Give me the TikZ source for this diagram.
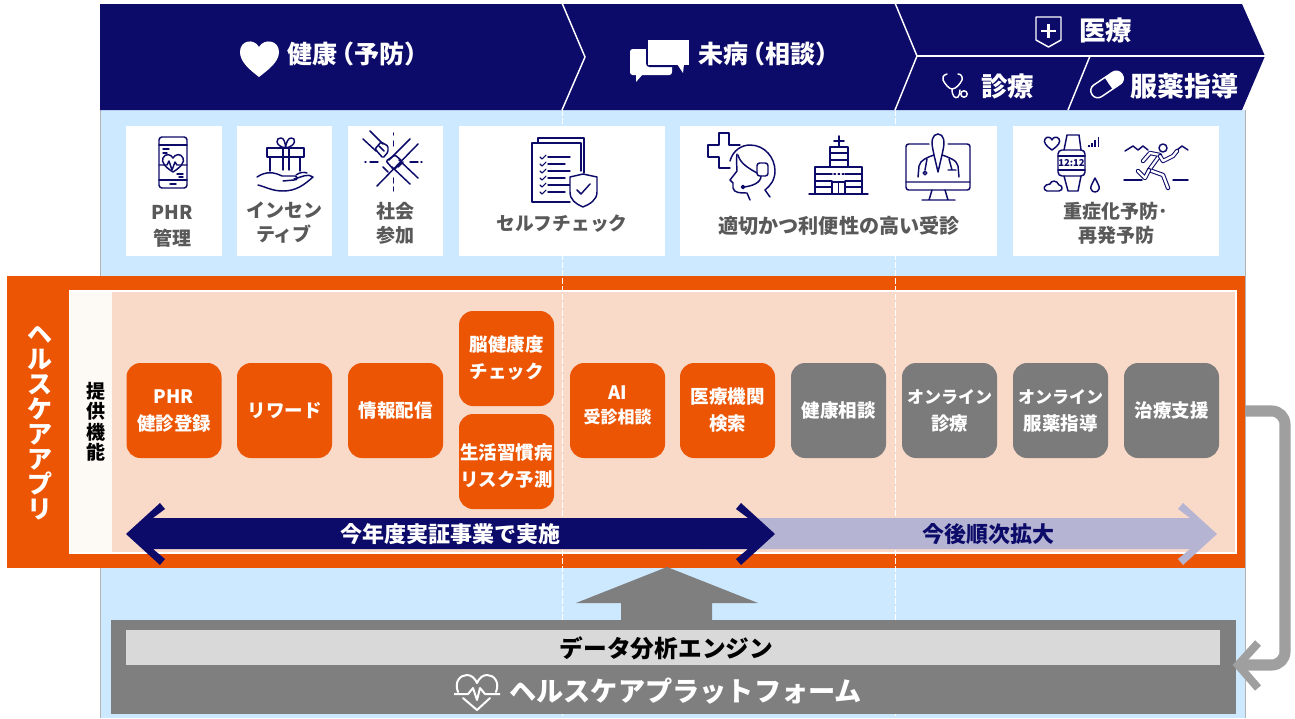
\documentclass[tikz,border=0pt]{standalone}
\usepackage{fontspec}
\setmainfont{Noto Sans CJK JP}
\usetikzlibrary{calc}
\definecolor{navy}{HTML}{0D0B69}
\definecolor{sky}{HTML}{CCE9FF}
\definecolor{orng}{HTML}{EC5504}
\definecolor{peach}{HTML}{F9D9C8}
\definecolor{strip}{HTML}{FDF9F5}
\definecolor{gbox}{HTML}{7B7B7B}
\definecolor{gbar}{HTML}{7F7F7F}
\definecolor{gline}{HTML}{9F9F9F}
\definecolor{lav}{HTML}{B5B5D3}
\definecolor{ltext}{HTML}{595959}
\newcommand{\fpx}[2]{\fontsize{\dimexpr#1pt*3/4\relax}{\dimexpr#2pt*3/4\relax}\selectfont\bfseries}
\newcommand{\fin}[1]{\fontsize{\dimexpr#1pt*3/4\relax}{\dimexpr27pt*3/4\relax}\selectfont}
\tikzset{
  x=0.75pt,y=-0.75pt,
  bx/.style 2 args={rectangle,inner sep=0pt,outer sep=0pt,minimum width=#1*0.75pt,minimum height=#2*0.75pt},
  cardbox/.style 2 args={bx={#1}{#2},fill=white},
  fnbox/.style={bx={95}{95},rounded corners=10.5pt,text=white,align=center,font=\fpx{18.5}{27}},
  obox/.style={fnbox,fill=orng},
  gbx/.style={fnbox,fill=gbox},
  boxtxt/.style={text=white,align=center,inner sep=0pt,font=\fpx{18.5}{27}},
  cardlbl/.style={text=ltext,align=center,inner sep=0pt,font=\fpx{18.7}{25}},
  ban/.style={text=white,inner sep=0pt,anchor=west},
  ic/.style={draw=navy,line width=1.1pt,line join=round,line cap=round},
  dbl/.style={draw=navy,line width=0.8pt,double=white,double distance=1.7pt,line cap=round,line join=round},
  wl/.style={draw=white,line width=1.1pt,line join=miter},
  dsh/.style={draw=white,line width=0.75pt,dash pattern=on 4.5pt off 1.5pt},
}
\begin{document}
\begin{tikzpicture}
\fill[white] (0,0) rectangle (1295,718);
\useasboundingbox (0,0) rectangle (1295,718);
% background
\node[bx={1145}{608},fill=sky,draw=none] (bg) at (672.5,414) {};
\draw[color=gray!60,line width=0.6pt] (bg.north west)--(bg.south west) (bg.north east)--(bg.south east);
% banner
\fill[navy] (100,4)--(1242,4)--(1265,56)--(1242,110)--(100,110)--cycle;
\draw[wl] (562,3)--(585,57)--(562,110);
\draw[wl] (895,3)--(917,56)--(895,110);
\draw[wl] (917,56)--(1265,56);
\draw[wl] (1090,56)--(1068,110);
% banner text
\node[ban,font=\fpx{25}{25}] (t1) at (287,54) {健康\kern-0.3em（予防）};
\node[ban,font=\fpx{25}{25}] (t2) at (698,54) {未病\kern-0.3em（相談）};
\node[ban,font=\fpx{26.5}{26}] (t3) at (1079,30) {医療};
\node[ban,font=\fpx{26.5}{26}] (t4) at (981,86) {診療};
\node[ban,font=\fpx{27}{27}] (t5) at (1130,86) {服薬指導};
% heart
\fill[white] (259,77) .. controls (250,70) and (240,62) .. (240,52) .. controls (240,40) and (254,38) .. (259,47) .. controls (264,38) and (279,40) .. (279,52) .. controls (279,62) and (268,70) .. (259,77) -- cycle;
% chat
\fill[white,rounded corners=2pt] (630,49) -- (672,49) -- (672,75) -- (630,75) -- cycle;
\fill[white] (636,74)--(636,82)--(643,74)--cycle;
\draw[navy,fill=white,line width=1.5pt,rounded corners=2pt] (647,40) rectangle (689,66);
\fill[white] (647.5,40) rectangle (689,65);
\fill[white] (677,64)--(683,73)--(684,64)--cycle;
% shield
\draw[white,line width=1.1pt,line join=round] (1036,17)--(1061,17)--(1061,40)--(1048.5,47)--(1036,40)--cycle;
\draw[white,line width=1.9pt] (1048.5,24)--(1048.5,38) (1041,31)--(1056,31);
% stethoscope
\draw[white,line width=1.1pt,line cap=round,line join=round] (947,74) .. controls (943,75) and (942,78) .. (943,80) .. controls (945,84) and (949,89) .. (952,89) .. controls (956,89) and (960,84) .. (962,80) .. controls (963,77) and (961,74) .. (958,74);
\draw[white,line width=1.1pt,line cap=round] (952,89) .. controls (952,96) and (955,99) .. (958,97) .. controls (960,96) and (959,93) .. (960,90);
\draw[white,line width=1.1pt] (964,94) circle (3.2);
% capsule
\begin{scope}[shift={(1107,84.5)},rotate=34]
\draw[white,line width=1.1pt,rounded corners=5pt] (-18,-7) rectangle (18,7);
\fill[white,rounded corners=5pt] (2,-7) -- (18,-7) -- (18,7) -- (2,7) -- cycle;
\fill[white] (2,-7) rectangle (6,7);
\end{scope}
% orange panel
\node[bx={1238}{292},fill=orng] (app) at (626,422) {};
\node[bx={1166}{262},fill=peach,draw=white,line width=0.9pt] (panel) at (653,422) {};
\node[bx={42}{260},fill=strip] (stripn) at (91,422) {};
\node[text=white,align=center,inner sep=0pt,font=\fpx{25}{25}] (apptxt) at (40,423.5) {ヘ\\ル\\ス\\ケ\\ア\\ア\\プ\\リ};
\node[text=black,align=center,inner sep=0pt,font=\fpx{19}{20.5}] (fn) at (95.5,422) {提\\供\\機\\能};
% dashed
\coordinate (d1t) at (562,110); \coordinate (d1b) at (562,718);
\coordinate (d2t) at (895,110); \coordinate (d2b) at (895,718);
\draw[dsh] (d1t)--(d1b); \draw[dsh] (d2t)--(d2b);
% cards
\node[cardbox={96}{130}] (c1) at (174,191) {};
\node[cardbox={95}{130}] (c2) at (284.5,191) {};
\node[cardbox={95}{130}] (c3) at (395.5,191) {};
\node[cardbox={206}{130}] (c4) at (562,191) {};
\node[cardbox={317}{130}] (c5) at (838.5,191) {};
\node[cardbox={206}{130}] (c6) at (1116,191) {};
\node[cardlbl,font=\fpx{19}{26}] (l1) at (172,226) {PHR\\管理};
\node[cardlbl,font=\fpx{19}{24}] (l2) at (284,223) {インセン\\ティブ};
\node[cardlbl,font=\fpx{19}{24}] (l3) at (395,223) {社会\\参加};
\node[cardlbl] (l4) at (562,224) {セルフチェック};
\node[cardlbl,font=\fpx{20.1}{25}] (l5) at (839,226) {適切かつ利便性の高い受診};
\node[cardlbl,font=\fpx{19}{23.5}] (l6) at (1116,223.5) {重症化予防･\\再発予防};
% phone icon
\draw[ic,rounded corners=2.2pt] (159,137) rectangle (187,188);
\draw[ic] (159,145)--(187,145) (159,180)--(187,180) (170,184)--(176,184) (163,149)--(169,149) (163,153)--(167,153) (177,174)--(183,174) (179,177)--(183,177);
\draw[ic] (173,172) .. controls (165,167) and (161,162) .. (163,158) .. controls (165,153) and (171,154) .. (173,158) .. controls (175,154) and (181,153) .. (183,158) .. controls (185,162) and (181,167) .. (173,172);
\draw[ic] (159,165)--(167,165)--(169,161)--(172,170)--(175,162)--(177,165)--(187,165);
% gift icon
\draw[ic] (267,148) rectangle (304,157);
\draw[ic] (270,157)--(270,171) (300,157)--(300,171) (283,148)--(283,170) (289,148)--(289,170);
\draw[ic] (285.5,148) .. controls (274,146) and (276,137) .. (281,138) .. controls (284,138) and (285.5,143) .. (285.5,148) .. controls (286,143) and (288,138) .. (291,138) .. controls (296,137) and (297,146) .. (285.5,148);
\draw[ic] (257,177) .. controls (266,171) and (274,172) .. (282,176) -- (295,176) .. controls (298,177) and (298,180) .. (294,180) -- (283,181);
\draw[ic] (294,179) .. controls (302,177) and (308,173) .. (313,177) .. controls (304,185) and (296,191) .. (283,191) .. controls (272,191) and (266,187) .. (258,185);
\draw[ic] (296,175) .. controls (300,172) and (304,172) .. (307,173);
% social icon
\draw[ic] (393.5,133)--(393.5,135) (393.5,141)--(393.5,146) (393.5,178)--(393.5,183) (393.5,187)--(393.5,191) (365,162)--(366,162) (370,162)--(378,162) (410,162)--(418,162) (421,162)--(422,162);
\draw[ic] (363,139)--(376,151) (370,131)--(383,144);
\draw[ic,rounded corners=1pt] (375,149)--(381,142)--(388,146)--(388,152)--(383,158)--cycle;
\draw[ic] (379,146)--(384,151);
\draw[ic] (418,144)--(377,186) (410,139)--(389,160);
\draw[ic] (418,178)--(399,160) (410,184)--(392,167);
\draw[ic,rounded corners=1pt] (386,161)--(395,155)--(402,161)--(394,170)--cycle;
\draw[ic] (383,167)--(388,172) (398,167)--(403,162);
% checklist icon
\draw[ic] (584,173)--(584,138)--(538,138)--(538,143);
\draw[ic] (581,171)--(581,143)--(532,143)--(532,202)--(570,202);
\draw[ic] (548,157)--(570,157) (548,164)--(565,164) (548,171)--(570,171) (548,178)--(565,178) (548,185)--(570,185) (548,192)--(565,192);
\foreach \yy in {157,164,171,178,185,192}{\draw[ic,line width=0.8pt] (540,\yy)--(542,\yy+2)--(546,\yy-2);}
\draw[ic,fill=white] (570,177)--(583,174)--(597,177)--(597,192) .. controls (597,200) and (590,204) .. (583,207) .. controls (576,204) and (570,200) .. (570,192) -- cycle;
\draw[ic] (577,190)--(581,194)--(590,184);
% headset icon
\draw[ic] (740,145)--(729,145)--(729,133)--(719,133)--(719,145)--(708,145)--(708,157)--(719,157)--(719,168)--(730,168);
\draw[ic] (730,161) .. controls (733,150) and (742,145) .. (750,145) .. controls (765,145) and (775,158) .. (775,171) .. controls (775,180) and (770,186) .. (765,190) -- (770,197);
\draw[ic] (737,154) .. controls (736,160) and (737,168) .. (737,171) -- (730,180) -- (733,183) -- (733,188) .. controls (734,193) and (740,193) .. (747,193) -- (750,200);
\draw[ic] (738,155) .. controls (740,163) and (748,168) .. (757,173);
\draw[ic,rounded corners=2pt] (757,163) rectangle (768,176);
\draw[ic] (761,176) .. controls (761,183) and (752,186) .. (744,187);
\draw[ic,fill=navy] (743,187) circle (1.5);
% hospital icon
\draw[ic] (809,194)--(868,194) (815,194)--(815,167)--(862,167)--(862,194) (830,167)--(830,147)--(848,147)--(848,167);
\draw[ic,line width=1.4pt] (839,136)--(839,146) (834,141)--(844,141);
\draw[ic] (830,153)--(848,153) (830,160)--(848,160);
\draw[ic] (815,174)--(832,174) (845,174)--(862,174) (815,181)--(832,181) (845,181)--(862,181) (815,187)--(832,187) (845,187)--(862,187);
\draw[ic] (832,194)--(832,182)--(845,182)--(845,194) (838.5,182)--(838.5,194);
\draw[ic,dotted] (834,174)--(844,174);
% monitor icon
\draw[ic,rounded corners=2pt] (929,144)--(906,144)--(906,190)--(970,190)--(970,144)--(948,144);
\draw[ic] (906,182)--(970,182) (932,190)--(929,200) (945,190)--(948,200) (922,200)--(955,200);
\draw[ic] (938,134) .. controls (932,134) and (931,142) .. (933,150) -- (934,155) .. controls (928,157) and (920,160) .. (919,166) -- (918,177);
\draw[ic] (938,134) .. controls (944,134) and (945,142) .. (943,150) -- (942,155) .. controls (948,157) and (957,160) .. (958,166) -- (959,177);
\draw[ic] (934,155)--(938,172)--(942,155);
\draw[ic] (927,159)--(925,170) (949,159)--(952,170) (948,170)--(956,170);
\draw[ic] (925,173) circle (1.8);
% watch icon
\draw[ic,rounded corners=3pt] (1058,150) rectangle (1085,176);
\draw[ic] (1064,150)--(1067,135)--(1079,135)--(1081,150) (1064,176)--(1068,191)--(1078,191)--(1081,176);
\draw[ic,line width=1pt] (1058,156)--(1085,156) (1058,170)--(1085,170);
\node[text=navy,inner sep=0pt,font=\fpx{9.5}{9}] (clock) at (1071.5,163) {12:12};
\draw[ic] (1052,150) .. controls (1046,146) and (1043,142) .. (1045,139) .. controls (1047,136) and (1051,137) .. (1052,140) .. controls (1053,137) and (1057,136) .. (1059,139) .. controls (1061,142) and (1058,146) .. (1052,150);
\draw[navy,line width=1.4pt] (1089,147)--(1089,145) (1092,147)--(1092,143) (1095,147)--(1095,140) (1098.5,147)--(1098.5,137);
\draw[ic] (1047,191) -- (1059,191) .. controls (1064,190) and (1062,185) .. (1059,185) .. controls (1057,180) and (1051,180) .. (1050,184) .. controls (1044,184) and (1042,190) .. (1047,191);
\draw[ic] (1095,178) .. controls (1092,184) and (1090,187) .. (1091,189) .. controls (1092,193) and (1098,193) .. (1099,189) .. controls (1100,187) and (1098,184) .. (1095,178);
% runner icon
\draw[ic] (1125,151)--(1133,146)--(1138,150)--(1143,146)--(1148,150) (1177,150)--(1182,146)--(1188,150);
\draw[ic] (1124,180)--(1142,180) (1173,180)--(1188,180);
\draw[ic] (1163,148) circle (4);
\draw[dbl] (1143,161)--(1150,153)--(1160,155)--(1149,170)--(1163,175)--(1168,188);
\draw[dbl] (1160,156)--(1163,161)--(1173,156)--(1177,151);
\draw[dbl] (1149,170)--(1145,178)--(1138,171);
% function boxes
\node[obox] (b1) at (174,410.5) {PHR\\健診登録};
\node[obox] (b2) at (284.5,410.5) {リワード};
\node[obox] (b3) at (395.5,410.5) {情報配信};
\node[obox] (b4) at (506.5,358.5) {脳健康度\\チェック};
\node[obox] (b5) at (506.5,461.5) {};
\node[boxtxt] (b5t) at (506.5,466) {生活習慣病\\リスク予測};
\node[obox] (b6) at (617.5,410.5) {};
\node[boxtxt,font=\fpx{18.5}{24}] (b6t) at (617.5,405.5) {AI\\\fin{17}受診相談};
\node[obox] (b7) at (727.5,410.5) {医療機関\\検索};
\node[gbx] (b8) at (838.5,410.5) {健康相談};
\node[gbx] (b9) at (949.5,410.5) {\fin{17}オンライン\\診療};
\node[gbx] (b10) at (1060.5,410.5) {\fin{17}オンライン\\服薬指導};
\node[gbx] (b11) at (1171.5,410.5) {治療支援};
% arrows
\fill[lav] (700,518)--(1190,518)--(1178,509)--(1183,503)--(1217,534)--(1183,565)--(1178,559)--(1190,549)--(700,549)--cycle;
\fill[navy] (126,534)--(160,503)--(165,509)--(153,518)--(748,518)--(736,509)--(741,503)--(775,534)--(741,565)--(736,559)--(748,549)--(153,549)--(165,559)--(160,565)--cycle;
\node[text=white,inner sep=0pt,font=\fpx{22}{22}] (a1) at (450,534) {今年度実証事業で実施};
\node[text=navy,inner sep=0pt,font=\fpx{22}{22}] (a2) at (988,534) {今後順次拡大};
% platform
\node[bx={1125}{94},fill=gbar] (plat) at (673.5,667) {};
\node[bx={1094}{35},fill=black!15] (eng) at (673,647.5) {};
\node[text=black,inner sep=0pt,font=\fpx{23.7}{24}] (engt) at (666.5,648) {データ分析エンジン};
\node[text=white,inner sep=0pt,anchor=west,font=\fpx{27.2}{27}] (pt) at (509,691) {ヘルスケアプラットフォーム};
\draw[white,line width=1.5pt,line join=round,line cap=round] (458,692) .. controls (454,682) and (460,675) .. (467,675) .. controls (471,675) and (475,678) .. (477,683) .. controls (479,678) and (483,675) .. (487,675) .. controls (494,675) and (500,682) .. (496,692);
\draw[white,line width=1.5pt,line join=round,line cap=round] (463,698)--(477,710)--(490,698);
\draw[white,line width=1.5pt,line join=round] (454,694)--(468,694)--(473,688)--(477,700)--(480,688)--(485,694)--(500,694);
% up arrow
\fill[gbar] (667,567)--(758,603)--(712,603)--(712,621)--(621,621)--(621,603)--(576,603)--cycle;
% right connector
\coordinate (cs) at ($(app.east)+(0,8.25pt)$);
\coordinate (ce) at (1238,665);
\draw[gline,line width=8.3pt,rounded corners=10pt] (cs) -- (1285,411) -- (1285,665) -- (ce);
\draw[gline,line width=6pt,line join=miter] (1258,643)--(1238,665)--(1258,688);
\end{tikzpicture}
\end{document}
